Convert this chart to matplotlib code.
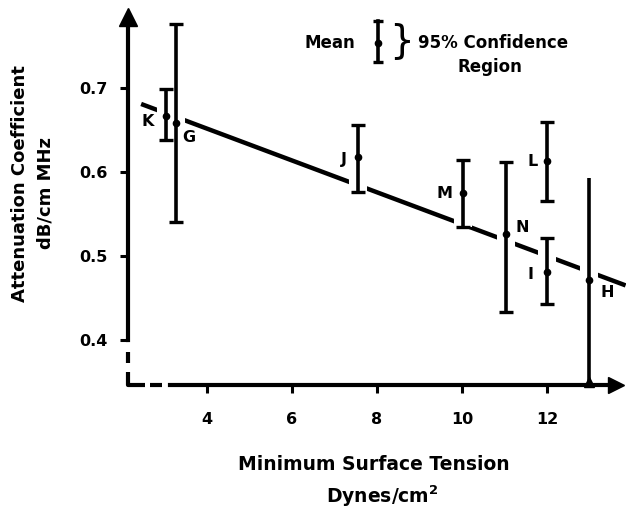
import matplotlib
matplotlib.use("Agg")
import matplotlib.pyplot as plt
from matplotlib.lines import Line2D

plt.rcParams['font.family'] = ['DejaVu Sans']
plt.rcParams['font.weight'] = 'bold'

# ---- data ----
labels = ['K', 'G', 'J', 'M', 'N', 'L', 'I', 'H']
surface_tension = [3.04, 3.27, 7.55, 10.02, 11.04, 12.0, 12.0, 13.0]
atten_mean = [0.667, 0.658, 0.618, 0.575, 0.526, 0.613, 0.481, 0.471]
ci_upper = [0.699, 0.776, 0.656, 0.614, 0.612, 0.660, 0.522, 0.593]
ci_lower = [0.638, 0.540, 0.576, 0.535, 0.433, 0.566, 0.443, 0.346]
reg_x = [2.45, 13.85]
reg_y = [0.681, 0.465]
x_ticks = [4, 6, 8, 10, 12]
y_ticks = [0.4, 0.5, 0.6, 0.7]
y_tick_labels = ['0.4', '0.5', '0.6', '0.7']

# label offsets in points
label_offsets = {'K': (-13.5, -4), 'G': (9, -10), 'J': (-10, -2), 'M': (-13.5, 0),
                 'N': (11.5, 5), 'L': (-10, 0), 'I': (-12, -2), 'H': (13, -8.5)}

W, H = 626, 508
fig = plt.figure(figsize=(W / 100, H / 100), dpi=100)
# axes placement (pixel-calibrated)
x0, x1 = 2.1, 13.85
y0, y1 = 0.34, 0.80
left_px, right_px = 126.25, 625.6
top_px, bot_px = 4.0, 390.4
ax = fig.add_axes([left_px / W, (H - bot_px) / H, (right_px - left_px) / W, (bot_px - top_px) / H])
ax.set_xlim(x0, x1)
ax.set_ylim(y0, y1)
ax.patch.set_alpha(0)

yaxis_x = 2.141
xaxis_y = 0.346

# spines as axes
for s in ['top', 'right']:
    ax.spines[s].set_visible(False)
ax.spines['left'].set_position(('data', yaxis_x))
ax.spines['left'].set_bounds(0.4, 0.78)
ax.spines['left'].set_linewidth(3)
ax.spines['bottom'].set_position(('data', xaxis_y))
ax.spines['bottom'].set_bounds(3.13, 13.6)
ax.spines['bottom'].set_linewidth(3)

ax.set_xticks(x_ticks)
ax.set_xticklabels([str(t) for t in x_ticks])
ax.set_yticks(y_ticks)
ax.set_yticklabels(y_tick_labels)
ax.tick_params(axis='both', direction='out', length=6, width=2.2, labelsize=11.5)
ax.tick_params(axis='x', pad=13)
ax.tick_params(axis='y', pad=9)

# arrowheads
ax.plot([yaxis_x], [0.785], marker='^', markersize=13, color='black', clip_on=False, zorder=5)
ax.plot([13.62], [xaxis_y], marker='>', markersize=11, color='black', clip_on=False, zorder=5)

# dashed axis-break corner
seg_style = dict(color='black', lw=3, solid_capstyle='butt', clip_on=False)
ax.plot([yaxis_x, yaxis_x], [0.386, 0.373], **seg_style)
ax.plot([yaxis_x, yaxis_x, 2.54], [0.362, xaxis_y, xaxis_y], **seg_style)
ax.plot([2.65, 2.94], [xaxis_y, xaxis_y], **seg_style)

# regression line
ax.plot(reg_x, reg_y, color='black', lw=3.2, solid_capstyle='butt', zorder=1)

# white gaps around bars, then bars
for xi, lo, hi in zip(surface_tension, ci_lower, ci_upper):
    ax.plot([xi, xi], [lo, hi], color='white', lw=13, solid_capstyle='butt', zorder=2)
for lab, xi, m, lo, hi in zip(labels, surface_tension, atten_mean, ci_lower, ci_upper):
    cap = 0 if lab == 'H' else 5
    ax.errorbar([xi], [m], yerr=[[m - lo], [hi - m]], fmt='o', color='black',
                markersize=4.5, elinewidth=2.6, capsize=cap, capthick=2.4, zorder=3)
    ax.annotate(lab, (xi, m), xytext=label_offsets[lab], textcoords='offset points',
                ha='center', va='center', fontsize=11.5, fontweight='bold', zorder=4)
# blob at foot of H bar
ax.plot([surface_tension[-1]], [xaxis_y + 0.004], marker='^', markersize=7, color='black',
        zorder=4, clip_on=False)

# axis labels
fig.text(20 / W, 1 - 184 / H, 'Attenuation Coefficient', rotation=90, ha='center', va='center',
         fontsize=13, fontweight='bold')
fig.text(46 / W, 1 - 193 / H, 'dB/cm MHz', rotation=90, ha='center', va='center',
         fontsize=13, fontweight='bold')
fig.text(374 / W, 1 - 465 / H, 'Minimum Surface Tension', ha='center', va='center',
         fontsize=13.5, fontweight='bold')
fig.text(382 / W, 1 - 496 / H, 'Dynes/cm$^{\\mathbf{2}}$', ha='center', va='center',
         fontsize=13.5, fontweight='bold')

# legend
fig.text(330 / W, 1 - 43 / H, 'Mean', ha='center', va='center', fontsize=12, fontweight='bold')
lx = 378 / W
fig.add_artist(Line2D([lx, lx], [1 - 21 / H, 1 - 62 / H], color='black', lw=2.6,
                      transform=fig.transFigure))
fig.add_artist(Line2D([lx], [1 - 21 / H], marker='_', markersize=7, mew=2.4, color='black',
                      transform=fig.transFigure))
fig.add_artist(Line2D([lx], [1 - 62 / H], marker='_', markersize=7, mew=2.4, color='black',
                      transform=fig.transFigure))
fig.add_artist(Line2D([lx], [1 - 43 / H], marker='o', markersize=4.5, color='black',
                      transform=fig.transFigure))
fig.text(401 / W, 1 - 41 / H, '}', ha='center', va='center', fontsize=28, fontweight='normal')
fig.text(418 / W, 1 - 43 / H, '95% Confidence', ha='left', va='center', fontsize=12,
         fontweight='bold')
fig.text(490 / W, 1 - 67 / H, 'Region', ha='center', va='center', fontsize=12, fontweight='bold')

fig.savefig('out.png', dpi=100)
